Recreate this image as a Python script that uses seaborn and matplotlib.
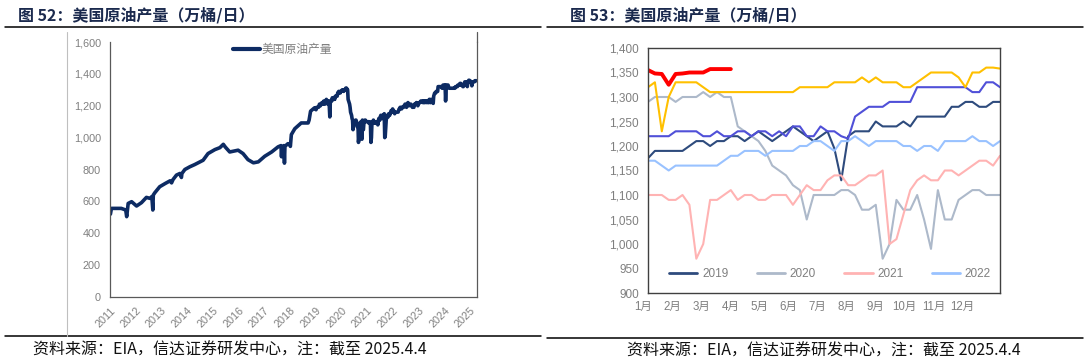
import numpy as np
import pandas as pd
import matplotlib
matplotlib.use("Agg")
import matplotlib.pyplot as plt
import matplotlib.dates as mdates
import matplotlib.transforms as mtransforms
from matplotlib.lines import Line2D
from matplotlib.ticker import FuncFormatter, FixedLocator, NullFormatter
import seaborn as sns

# ---------------- data ----------------
# Left chart: weekly US crude production (10k bbl/day), 2011-2018 read as key points
early_dates = ["2011-01-07", "2011-01-21", "2011-06-10", "2011-08-12", "2011-08-26", "2011-09-16",
               "2011-11-04", "2012-01-13", "2012-03-23", "2012-06-01", "2012-07-20", "2012-08-17",
               "2012-08-31", "2012-09-07", "2012-09-28", "2012-12-07", "2013-02-22", "2013-05-03",
               "2013-05-24", "2013-06-14", "2013-08-02", "2013-09-20", "2013-10-11", "2013-10-18",
               "2013-11-29", "2014-02-07", "2014-04-18", "2014-07-04", "2014-08-15", "2014-10-24",
               "2015-01-30", "2015-04-10", "2015-05-29", "2015-06-26", "2015-08-28", "2015-12-25",
               "2016-03-04", "2016-05-13", "2016-07-29", "2016-10-07", "2017-01-06", "2017-04-14",
               "2017-07-14", "2017-08-25", "2017-09-01", "2017-09-08", "2017-10-06", "2017-10-13",
               "2017-10-20", "2017-12-01", "2017-12-29", "2018-01-05", "2018-01-19", "2018-03-09",
               "2018-06-08", "2018-09-14", "2018-09-28", "2018-10-19", "2018-12-14"]
early_values = [520, 556, 556, 546, 504, 587,
                598, 571, 592, 625, 619, 630,
                546, 640, 654, 692, 712, 729,
                716, 737, 765, 775, 750, 775,
                800, 817, 831, 848, 858, 900,
                925, 937, 958, 941, 910, 921,
                900, 862, 842, 848, 883, 910,
                942, 950, 880, 935, 950, 840,
                945, 962, 955, 945, 1019, 1056,
                1092, 1092, 1110, 1166, 1187]

# Right chart: weekly production by year (week index from January)
years = [2019, 2020, 2021, 2022, 2023, 2024, 2025]
v2019 = [1175, 1190, 1190, 1190, 1190, 1190, 1200, 1210, 1210, 1200,
         1210, 1210, 1220, 1220, 1210, 1220, 1230, 1220, 1210, 1220,
         1230, 1240, 1230, 1220, 1210, 1220, 1230, 1195, 1130, 1220,
         1230, 1230, 1230, 1250, 1240, 1240, 1240, 1250, 1240, 1260,
         1260, 1260, 1260, 1260, 1280, 1280, 1290, 1290, 1280, 1280,
         1290, 1290]
v2020 = [1290, 1300, 1300, 1300, 1290, 1300, 1300, 1300, 1310, 1300,
         1310, 1300, 1300, 1240, 1230, 1220, 1210, 1190, 1160, 1150,
         1140, 1120, 1110, 1050, 1100, 1100, 1100, 1100, 1110, 1110,
         1100, 1070, 1070, 1080, 970, 1000, 1090, 1070, 1070, 1100,
         1050, 990, 1110, 1050, 1050, 1090, 1100, 1110, 1110, 1100,
         1100, 1100]
v2021 = [1100, 1100, 1100, 1090, 1090, 1100, 1080, 970, 1000, 1090,
         1090, 1100, 1110, 1090, 1100, 1100, 1090, 1090, 1100, 1100,
         1100, 1080, 1100, 1120, 1110, 1110, 1130, 1140, 1140, 1120,
         1120, 1130, 1140, 1140, 1150, 1000, 1010, 1060, 1110, 1130,
         1140, 1130, 1130, 1150, 1150, 1140, 1150, 1160, 1170, 1170,
         1160, 1180]
v2022 = [1170, 1170, 1160, 1150, 1160, 1160, 1160, 1160, 1160, 1160,
         1160, 1170, 1180, 1180, 1190, 1190, 1190, 1180, 1190, 1190,
         1190, 1190, 1200, 1200, 1210, 1210, 1200, 1190, 1210, 1210,
         1220, 1210, 1200, 1210, 1210, 1210, 1210, 1200, 1200, 1190,
         1200, 1200, 1190, 1210, 1210, 1210, 1210, 1220, 1210, 1210,
         1200, 1210]
v2023 = [1220, 1220, 1220, 1220, 1230, 1230, 1230, 1230, 1220, 1220,
         1230, 1220, 1220, 1230, 1230, 1220, 1230, 1230, 1220, 1230,
         1220, 1240, 1240, 1220, 1220, 1240, 1230, 1230, 1220, 1215,
         1260, 1270, 1280, 1280, 1280, 1290, 1290, 1290, 1290, 1320,
         1320, 1320, 1320, 1320, 1320, 1320, 1320, 1310, 1310, 1330,
         1330, 1320]
v2024 = [1320, 1330, 1230, 1300, 1330, 1330, 1330, 1330, 1320, 1310,
         1310, 1310, 1310, 1310, 1310, 1310, 1310, 1310, 1310, 1310,
         1310, 1310, 1320, 1320, 1320, 1320, 1320, 1330, 1330, 1330,
         1330, 1340, 1330, 1340, 1330, 1330, 1330, 1320, 1320, 1330,
         1340, 1350, 1350, 1350, 1350, 1340, 1320, 1350, 1350, 1360,
         1360, 1358]
v2025 = [1355, 1348, 1347, 1325, 1347, 1348, 1350, 1350, 1350, 1357,
         1357, 1357, 1357]
yearly = [v2019, v2020, v2021, v2022, v2023, v2024, v2025]
colors = ["#2E4B7D", "#ADB9CA", "#FFB3B3", "#99C2FF", "#5050D8", "#FFC000", "#FF0000"]
month_labels = ["1月", "2月", "3月", "4月", "5月", "6月", "7月", "8月", "9月", "10月", "11月", "12月"]
left_yticks = [0, 200, 400, 600, 800, 1000, 1200, 1400, 1600]
right_yticks = [900, 950, 1000, 1050, 1100, 1150, 1200, 1250, 1300, 1350, 1400]

# ---------------- build frames ----------------
rows = [(pd.Timestamp(d), v) for d, v in zip(early_dates, early_values)]
for y, vals in zip(years, yearly):
    base = pd.Timestamp(f"{y}-01-04")
    for w, v in enumerate(vals):
        rows.append((base + pd.Timedelta(days=7 * w), v))
dfL = pd.DataFrame(rows, columns=["date", "value"])

# ---------------- figure ----------------
sns.set_theme(style="white")
plt.rcParams['font.family'] = ['Liberation Sans', 'Noto Sans CJK SC', 'DejaVu Sans']
CJK = ['Noto Sans CJK SC', 'DejaVu Sans']

W, H = 1088, 363
fig = plt.figure(figsize=(W / 100, H / 100), dpi=100)


def fx(px):
    return px / W


def fy(py):
    return 1 - py / H


tick_gray = "#7F7F7F"
comma = FuncFormatter(lambda v, p: f"{int(v):,}")

# ---- left chart ----
axL = fig.add_axes([fx(110), fy(297), fx(477) - fx(110), fy(42) - fy(297)])
sns.lineplot(data=dfL, x="date", y="value", ax=axL, color="#0D2B63", lw=2.6,
             label="美国原油产量", legend=False)
axL.set_xlim(pd.Timestamp("2011-01-01"), pd.Timestamp("2025-04-08"))
axL.set_ylim(0, 1600)
axL.yaxis.set_major_locator(FixedLocator(left_yticks))
axL.yaxis.set_major_formatter(comma)
axL.xaxis.set_major_locator(mdates.YearLocator())
axL.xaxis.set_major_formatter(mdates.DateFormatter("%Y"))
axL.set_xlabel("")
axL.set_ylabel("")
for lab in axL.get_xticklabels():
    lab.set_rotation(45)
    lab.set_ha("right")
    lab.set_rotation_mode("anchor")
axL.tick_params(axis="both", labelsize=7.8, colors="#595959", labelcolor=tick_gray,
                length=3, width=0.8, direction="out")
axL.tick_params(axis="x", pad=3)
for s in ["left", "bottom", "right"]:
    axL.spines[s].set_color("#595959")
    axL.spines[s].set_linewidth(0.9)
axL.spines["top"].set_visible(False)
legL = axL.legend(loc="center", bbox_to_anchor=(0.47, 0.972), frameon=False,
                  handlelength=2.3, handletextpad=0.15, borderpad=0,
                  prop={'family': CJK, 'size': 8.5})
for t in legL.get_texts():
    t.set_color(tick_gray)
for h in legL.get_lines():
    h.set_linewidth(3)

# ---- right chart ----
axR = fig.add_axes([fx(648), fy(293), fx(1000) - fx(648), fy(48) - fy(293)])
handles = []
for y, vals, c in zip(years, yearly, colors):
    d = pd.DataFrame({"week": np.arange(len(vals)), "value": vals})
    lw = 2.8 if y == 2025 else 1.5
    sns.lineplot(data=d, x="week", y="value", ax=axR, color=c, lw=lw, legend=False)
    handles.append(Line2D([], [], color=c, lw=2.0, label=str(y)))
axR.set_xlim(0, 51)
axR.set_ylim(900, 1400)
axR.yaxis.set_major_locator(FixedLocator(right_yticks))
axR.yaxis.set_major_formatter(comma)
axR.xaxis.set_major_locator(FixedLocator(np.arange(12) * 52 / 12))
axR.xaxis.set_major_formatter(NullFormatter())
axR.tick_params(axis="both", which="major", labelsize=8.5, colors="#404040", labelcolor=tick_gray,
                length=3, width=0.8, direction="out")
axR.set_xlabel("")
axR.set_ylabel("")
# month labels under the axis (data x, axes y)
trans = mtransforms.blended_transform_factory(axR.transData, axR.transAxes)
for pos, lab in zip(np.linspace(-0.7, 45.6, 12), month_labels):
    axR.text(pos, -0.058, lab, transform=trans, ha="center", va="center",
             fontsize=8.3, color=tick_gray, clip_on=False)
for s in axR.spines.values():
    s.set_color("#404040")
    s.set_linewidth(1.0)
legR = axR.legend(handles=handles[:4], loc="center", bbox_to_anchor=(0.517, 0.078), ncol=4,
                  frameon=False, handlelength=2.4, handletextpad=0.4, columnspacing=2.4,
                  borderpad=0, fontsize=8.5)
for t in legR.get_texts():
    t.set_color(tick_gray)

# ---- titles, rules, source notes ----
title_color = "#1B2A4E"
fig.text(fx(18), fy(15), "图 52：美国原油产量（万桶/日）", fontsize=11.5, weight="bold",
         color=title_color, va="center", ha="left", family=CJK)
fig.text(fx(570), fy(15), "图 53：美国原油产量（万桶/日）", fontsize=11.5, weight="bold",
         color=title_color, va="center", ha="left", family=CJK)
fig.add_artist(Line2D([fx(5), fx(541)], [fy(27), fy(27)], color="black", lw=1.1))
fig.add_artist(Line2D([fx(547), fx(1083)], [fy(27), fy(27)], color="black", lw=1.1))
fig.add_artist(Line2D([fx(5), fx(541)], [fy(336), fy(336)], color="black", lw=1.1))
fig.add_artist(Line2D([fx(547), fx(1083)], [fy(338), fy(338)], color="black", lw=1.1))
# chart-area frame lines of the left chart
fig.add_artist(Line2D([fx(67), fx(67)], [fy(32), fy(336)], color="#BFBFBF", lw=0.8))
fig.add_artist(Line2D([fx(477), fx(477)], [fy(32), fy(42)], color="#595959", lw=0.9))

src = "资料来源：EIA，信达证券研发中心，注：截至 2025.4.4"
fig.text(fx(33), fy(350), src, fontsize=11.5, color="#111111", va="center", ha="left", family=CJK)
fig.text(fx(627), fy(351), src, fontsize=11.5, color="#111111", va="center", ha="left", family=CJK)

fig.savefig("out.png", dpi=100)
